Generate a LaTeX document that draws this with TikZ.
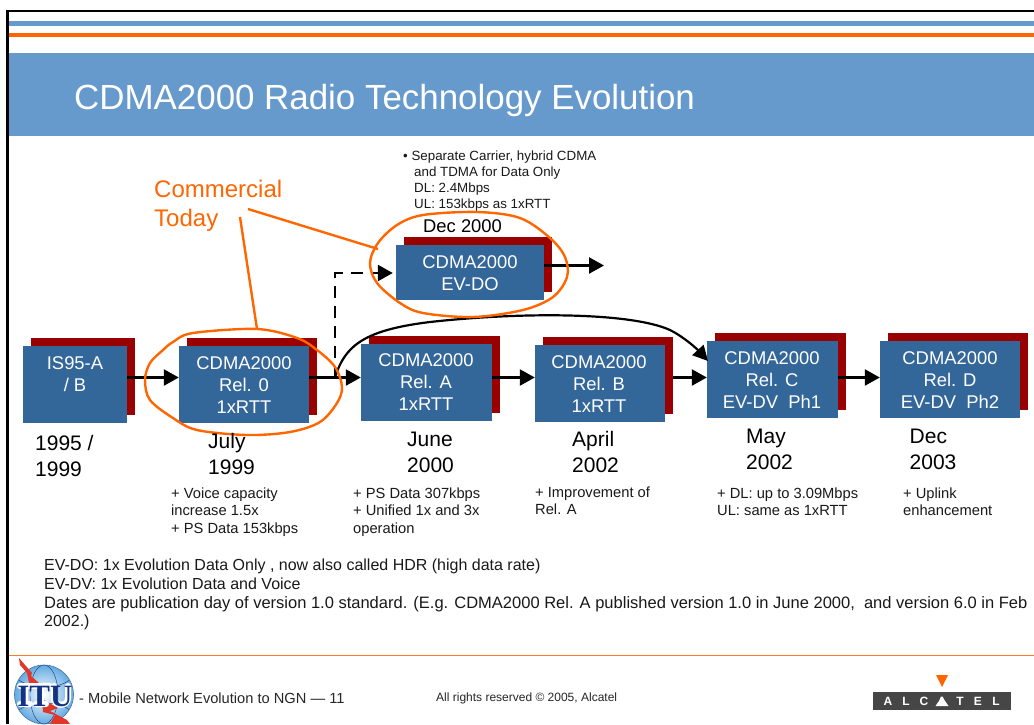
\documentclass[tikz,border=0pt]{standalone}
\usepackage{fontspec}
\setmainfont{Liberation Sans}
\newfontfamily\itufont{Liberation Serif}
\usetikzlibrary{arrows.meta}
\definecolor{hdr}{RGB}{102,153,204}
\definecolor{org}{RGB}{255,102,0}
\definecolor{boxb}{RGB}{51,102,153}
\definecolor{shad}{RGB}{153,0,0}
\definecolor{alc}{RGB}{70,70,70}
\definecolor{itub}{RGB}{20,50,130}
\definecolor{itul}{RGB}{100,170,225}
\definecolor{itur}{RGB}{225,55,40}
\tikzset{
 x=1pt,y=-1pt,
 rel/.style={fill=boxb,inner sep=0pt},
 boxtext/.style={text=white,align=center,inner sep=0pt,font=\fontsize{18.4}{22}\selectfont},
 shadowbox/.style={fill=shad},
 date/.style={anchor=north west,align=left,inner sep=0pt,font=\fontsize{21}{26}\selectfont},
 note/.style={anchor=north west,align=left,inner sep=0pt,font=\fontsize{14.7}{17.5}\selectfont,text=black!90},
 flow/.style={line width=2.4pt,-{Triangle[length=15pt,width=16pt]}},
 ring/.style={draw=org,line width=2.4pt},
}
\begin{document}
\begin{tikzpicture}
\useasboundingbox (0,0) rectangle (1034,724);
\fill[white] (0,0) rectangle (1034,724);
% frame
\fill[black] (6,9.5) rectangle (1034,11.5);
\fill[black] (6,9.5) rectangle (8.5,724);
% header
\fill[hdr] (8.5,21) rectangle (1034,26);
\fill[org] (8.5,33) rectangle (1034,37);
\fill[hdr] (8.5,53) rectangle (1034,136);
\node[anchor=west,inner sep=0pt,text=white,font=\fontsize{34.9}{40}\selectfont] (title) at (74,100.5) {CDMA2000 Radio Technology Evolution};
% shadows
\fill[shadowbox] (31,338) rectangle (135,415);
\fill[shadowbox] (187,338) rectangle (317,415);
\fill[shadowbox] (369,336) rectangle (500,413);
\fill[shadowbox] (543,337) rectangle (673,414);
\fill[shadowbox] (715,333) rectangle (846,410);
\fill[shadowbox] (888,333) rectangle (1028,410);
\fill[shadowbox] (404,237) rectangle (552,292);
\coordinate (rbs) at (673,377.5);
\coordinate (split) at (335,377.5);
% boxes
\node[rel,minimum width=104pt,minimum height=77pt] (isb) at (75,384.5) {};
\node[rel,minimum width=130pt,minimum height=77pt] (r0) at (244,384.5) {};
\node[rel,minimum width=131pt,minimum height=77pt] (ra) at (426.5,382.5) {};
\node[rel,minimum width=130pt,minimum height=77pt] (rb) at (600,383.5) {};
\node[rel,minimum width=131pt,minimum height=77pt] (rc) at (772.5,379.5) {};
\node[rel,minimum width=140pt,minimum height=77pt] (rd) at (950,379.5) {};
\node[rel,minimum width=148pt,minimum height=55pt] (evdo) at (470,272.5) {};
\node[boxtext] at (75,374) {IS95-A\\/ B};
\node[boxtext] at (244,385) {CDMA2000\\Rel. 0\\1xRTT};
\node[boxtext] at (426,382) {CDMA2000\\Rel. A\\1xRTT};
\node[boxtext] at (599,384) {CDMA2000\\Rel. B\\1xRTT};
\node[boxtext] at (772,380) {CDMA2000\\Rel. C\\EV-DV\ \ Ph1};
\node[boxtext] at (950,380) {CDMA2000\\Rel. D\\EV-DV\ \ Ph2};
\node[boxtext] at (470,273) {CDMA2000\\EV-DO};
% arrows
\draw[flow] (isb.east|-0,377.5) -- (r0.west|-0,377.5);
\draw[flow] (r0.east|-0,377.5) -- (ra.west|-0,377.5);
\draw[flow] (ra.east|-0,377.5) -- (rb.west|-0,377.5);
\draw[flow] (rbs) -- (rc.west|-0,377.5);
\draw[flow] (rc.east|-0,377.5) -- (rd.west|-0,377.5);
\coordinate (evend) at (604,265.5);
\draw[flow] (evdo.east|-0,265.5) -- (evend);
\draw[line width=2.4pt,dash pattern=on 12pt off 8pt,-{Triangle[length=15pt,width=16pt]},shorten >=3pt] (split) -- (335,273) -- (evdo.west|-0,273);
\draw[line width=2.2pt,-{Triangle[length=15pt,width=15pt]}] (split) .. controls (345,345) and (365,330) .. (430,322) .. controls (520,312) and (630,312) .. (670,330) .. controls (684,337) and (697,349) .. (708,361);
% rings
\draw[ring] plot[smooth cycle,tension=0.55] coordinates {(145,380) (150,363) (163,350) (173,342) (193,333) (257,329) (297,338) (317,350) (335,367) (342,387) (337,403) (320,422) (290,432) (247,435) (197,430) (173,418) (150,400)};
\draw[ring] plot[smooth cycle,tension=0.55] coordinates {(370,263) (378,243) (397,225) (423,215) (477,212) (520,218) (550,238) (565,257) (567,277) (553,297) (523,310) (473,317) (423,313) (400,303) (377,283)};
\coordinate (l1s) at (248,209);
\coordinate (l2s) at (240,217);
\coordinate (l1e) at (378,249);
\coordinate (l2e) at (257,329);
\draw[ring] (l1s) -- (l1e);
\draw[ring] (l2s) -- (l2e);
\node[anchor=north west,align=left,inner sep=0pt,text=org,font=\fontsize{24}{29}\selectfont] (comm) at (154,180) {Commercial\\Today};
% top note
\node[anchor=north west,align=left,inner sep=0pt,font=\fontsize{13.35}{16}\selectfont,text=black!90] (topnote) at (403,150.5) {\textbullet\ Separate Carrier, hybrid CDMA\\\hspace{11pt}and TDMA for Data Only\\\hspace{11pt}DL: 2.4Mbps\\\hspace{11pt}UL: 153kbps as 1xRTT};
\node[anchor=north west,inner sep=0pt,font=\fontsize{18.4}{22}\selectfont] (dec) at (423,219) {Dec 2000};
% dates
\node[date] (d1) at (35,435.5) {1995 /\\1999};
\node[date] (d2) at (208,433) {July\\1999};
\node[date] (d3) at (407,431.5) {June\\2000};
\node[date] (d4) at (572,431.5) {April\\2002};
\node[date] (d5) at (746,428.5) {May\\2002};
\node[date] (d6) at (909.5,428.5) {Dec\\2003};
% notes
\node[note] (n2) at (171,487.5) {+ Voice capacity\\increase 1.5x\\+ PS Data 153kbps};
\node[note] (n3) at (353,487.5) {+ PS Data 307kbps\\+ Unified 1x and 3x\\operation};
\node[note] (n4) at (535,486.5) {+ Improvement of\\Rel. A};
\node[note] (n5) at (717,487.5) {+ DL: up to 3.09Mbps\\UL: same as 1xRTT};
\node[note] (n6) at (903,487.5) {+ Uplink\\enhancement};
\node[anchor=north west,align=left,inner sep=0pt,font=\fontsize{16}{18.7}\selectfont,text=black!90] (foot) at (44,559) {EV-DO: 1x Evolution Data Only , now also called HDR (high data rate)\\EV-DV: 1x Evolution Data and Voice\\{\fontsize{16.5}{18.7}\selectfont Dates are publication day of version 1.0 standard. (E.g. CDMA2000 Rel. A published version 1.0 in June 2000,\ \ and version 6.0 in Feb}\\2002.)};
% footer
\fill[org!85] (8.5,654.5) rectangle (1034,655.5);
\node[anchor=west,inner sep=0pt,font=\fontsize{14.66}{17}\selectfont,text=black!85] (ft) at (79,698) {- Mobile Network Evolution to NGN --- 11};
\node[anchor=west,inner sep=0pt,font=\fontsize{12}{14}\selectfont,text=black!85] (rights) at (436,698) {All rights reserved © 2005, Alcatel};
% ITU logo
\shade[inner color=white,outer color=itul] (44,694.5) circle (29.5);
\begin{scope}
\clip (44,694.5) circle (29.5);
\draw[itub,line width=.4pt] (44,694.5) ellipse (14 and 29.5);
\draw[itub,line width=.4pt] (16,678) .. controls (30,690) and (60,690) .. (72,678);
\draw[itub,line width=.4pt] (16,712) .. controls (30,700) and (60,700) .. (72,712);
\end{scope}
\draw[itul!70!black,line width=.6pt] (44,694.5) circle (29.5);
\fill[itur] (19,658) -- (32,673) -- (31,676) -- (39,683) -- (29,683) -- (27,673) -- (20,665) -- cycle;
\fill[itur] (42,699) -- (58,708) -- (50,711) -- (67,720) -- (70,724) -- (50,724) -- (55,715) -- (43,712) -- cycle;
\draw[white,line width=6pt,line cap=round] (20,686) -- (30,686) (25,686) -- (25,704) (20,704) -- (30,704) (32,686) -- (50,686) (41,686) -- (41,704) (36,704) -- (46,704) (54,686) -- (54,698) .. controls (54,707) and (68,707) .. (68,698) -- (68,686);
\node[anchor=base,inner sep=0pt,text=itub,font=\itufont\bfseries\fontsize{31}{31}\selectfont] (itu) at (45,706) {ITU};
% Alcatel logo
\fill[org] (936,675) -- (948,675) -- (942,687) -- cycle;
\fill[alc] (873,692) rectangle (1011,710);
\node[inner sep=0pt,text=white,font=\bfseries\fontsize{12}{14}\selectfont] (alcatel) at (942,701.5) {\makebox[18pt]{A}\makebox[18pt]{L}\makebox[18pt]{C}\makebox[18pt]{A}\makebox[18pt]{T}\makebox[18pt]{E}\makebox[18pt]{L}};
\fill[white] (942,696.5) -- (948.5,706) -- (935.5,706) -- cycle;
\end{tikzpicture}
\end{document}
